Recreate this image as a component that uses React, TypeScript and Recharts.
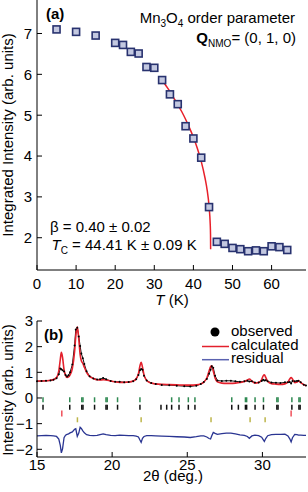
import React from 'react';
import { ComposedChart, Scatter, Line, XAxis, YAxis } from 'recharts';

const FONT = '"Liberation Sans", Arial, Helvetica, sans-serif';

// (a) Mn3O4 order parameter
const tempK = [5, 10, 15, 20, 22, 24, 26, 28, 30, 32, 34, 36, 38, 40, 42, 44, 46, 48, 50, 52, 54, 56, 58, 60, 62, 64];
const intensity = [7.10, 7.04, 6.95, 6.77, 6.72, 6.55, 6.51, 6.18, 6.16, 5.86, 5.51, 5.27, 4.73, 4.43, 3.96, 2.75, 1.90, 1.85, 1.75, 1.72, 1.67, 1.69, 1.67, 1.79, 1.77, 1.70];
const fitT = [32, 33, 34, 35, 36, 37, 38, 39, 40, 41, 42, 43, 43.5, 44, 44.2, 44.3, 44.38, 44.41];
const fitI = [5.86, 5.72, 5.58, 5.42, 5.26, 5.09, 4.90, 4.69, 4.46, 4.19, 3.87, 3.45, 3.18, 2.78, 2.53, 2.34, 2.08, 1.72];
const tTicks = [0, 10, 20, 30, 40, 50, 60];
const iTicks = [2, 3, 4, 5, 6, 7];

// (b) diffraction pattern
const twoTheta = [15.0, 15.3, 15.6, 15.9, 16.1, 16.3, 16.45, 16.55, 16.62, 16.7, 16.8, 16.9, 17.0, 17.1, 17.2, 17.35, 17.5, 17.58, 17.68, 17.78, 17.87, 17.95, 18.05, 18.15, 18.3, 18.5, 18.75, 19.0, 19.2, 19.4, 19.6, 19.9, 20.2, 20.5, 20.8, 21.1, 21.4, 21.6, 21.75, 21.85, 21.93, 22.02, 22.12, 22.3, 22.6, 22.9, 23.3, 23.8, 24.3, 24.8, 25.2, 25.6, 25.9, 26.1, 26.3, 26.45, 26.55, 26.63, 26.73, 26.85, 27.0, 27.3, 27.6, 27.9, 28.2, 28.5, 28.8, 29.0, 29.13, 29.3, 29.5, 29.75, 29.95, 30.05, 30.13, 30.22, 30.35, 30.6, 30.9, 31.2, 31.5, 31.7, 31.82, 31.91, 32.0, 32.15, 32.3, 32.4, 32.55, 32.75, 32.9];
const calculated = [0.66, 0.66, 0.67, 0.69, 0.72, 0.80, 1.05, 1.50, 1.78, 1.58, 1.10, 0.88, 0.80, 0.82, 0.90, 1.15, 1.80, 2.40, 2.77, 2.30, 1.70, 1.45, 1.35, 1.20, 1.00, 0.84, 0.76, 0.71, 0.70, 0.71, 0.70, 0.66, 0.63, 0.61, 0.61, 0.62, 0.66, 0.75, 0.95, 1.25, 1.39, 1.20, 0.90, 0.68, 0.58, 0.55, 0.53, 0.52, 0.51, 0.50, 0.50, 0.51, 0.55, 0.62, 0.78, 1.05, 1.22, 1.25, 1.05, 0.78, 0.63, 0.58, 0.57, 0.57, 0.58, 0.60, 0.64, 0.70, 0.74, 0.66, 0.58, 0.60, 0.72, 0.86, 0.90, 0.80, 0.65, 0.56, 0.54, 0.53, 0.55, 0.62, 0.74, 0.80, 0.74, 0.60, 0.62, 0.66, 0.60, 0.52, 0.48];
const observed = [0.65, 0.66, 0.67, 0.68, 0.71, 0.77, 0.92, 1.15, 1.12, 1.08, 1.03, 0.90, 0.84, 0.89, 1.00, 1.30, 2.05, 2.67, 2.74, 2.40, 2.03, 1.73, 1.55, 1.32, 1.04, 0.85, 0.76, 0.72, 0.73, 0.78, 0.73, 0.66, 0.63, 0.63, 0.61, 0.62, 0.65, 0.73, 0.90, 1.08, 1.13, 1.10, 0.87, 0.68, 0.58, 0.54, 0.51, 0.50, 0.48, 0.46, 0.45, 0.48, 0.54, 0.62, 0.74, 0.94, 1.10, 1.24, 1.18, 0.87, 0.68, 0.66, 0.67, 0.67, 0.65, 0.63, 0.65, 0.67, 0.64, 0.65, 0.60, 0.60, 0.66, 0.71, 0.68, 0.69, 0.65, 0.60, 0.59, 0.58, 0.61, 0.61, 0.62, 0.56, 0.66, 0.65, 0.66, 0.67, 0.61, 0.52, 0.49];
const residual = [-1.48, -1.47, -1.46, -1.47, -1.48, -1.50, -1.60, -1.85, -2.14, -1.98, -1.55, -1.45, -1.42, -1.40, -1.36, -1.32, -1.22, -1.20, -1.50, -1.37, -1.14, -1.19, -1.28, -1.36, -1.43, -1.46, -1.47, -1.46, -1.43, -1.40, -1.43, -1.46, -1.47, -1.45, -1.46, -1.47, -1.47, -1.49, -1.52, -1.64, -1.73, -1.57, -1.50, -1.47, -1.47, -1.48, -1.49, -1.50, -1.51, -1.52, -1.54, -1.51, -1.48, -1.48, -1.52, -1.58, -1.60, -1.47, -1.34, -1.38, -1.42, -1.39, -1.37, -1.37, -1.40, -1.44, -1.46, -1.50, -1.57, -1.48, -1.45, -1.47, -1.53, -1.62, -1.69, -1.58, -1.47, -1.43, -1.42, -1.42, -1.41, -1.48, -1.59, -1.71, -1.55, -1.42, -1.43, -1.45, -1.45, -1.46, -1.46];

// reflection marker rows
const greenRefl = [15.4, 17.18, 17.98, 18.06, 18.83, 19.59, 19.67, 20.36, 21.85, 23.96, 24.45, 25.07, 25.51, 27.96, 28.87, 28.95, 29.51, 30.07, 30.96, 31.04, 31.96, 32.43, 32.51];
const blackRefl = [15.4, 17.18, 17.98, 18.06, 18.83, 19.59, 19.67, 20.36, 21.85, 23.25, 23.63, 23.96, 24.45, 25.07, 25.51, 27.96, 28.4, 28.87, 28.95, 29.51, 30.07, 30.96, 31.04, 31.96, 32.43, 32.51];
const redRefl = [16.65, 31.91];
const yellowRefl = [17.69, 21.93, 26.58, 29.18, 30.18];
const thetaTicks = [15, 20, 25, 30];
const intTicks = [-2, -1, 0, 1, 2, 3];

const points = tempK.map((x, i) => ({ x, y: intensity[i] }));
const fit = fitT.map((x, i) => ({ x, y: fitI[i] }));
const obsData = twoTheta.map((x, i) => ({ x, y: observed[i] }));
const calcData = twoTheta.map((x, i) => ({ x, y: calculated[i] }));
const resData = twoTheta.map((x, i) => ({ x, y: residual[i] }));
const row = (arr: number[], y: number) => arr.map(x => ({ x, y }));

const axisStroke = { stroke: '#000', strokeWidth: 1 };
const minus = (v: number) => String(v).replace('-', '\u2212');

const bottomTick = (p: any) => (
  <text x={p.x} y={p.y} dy="0.71em" textAnchor="middle" fontSize={15} fontFamily={FONT} fill="#000">
    {minus(p.payload.value)}
  </text>
);
const leftTick = (p: any) => (
  <text x={p.x} y={p.y} dy="0.36em" textAnchor="end" fontSize={15} fontFamily={FONT} fill="#000">
    {minus(p.payload.value)}
  </text>
);

const square = (p: any) => {
  if (p.cx == null) return <g />;
  return <rect x={p.cx - 3.5} y={p.cy - 3.5} width={7} height={7} fill="#c3c8e0" stroke="#28326f" strokeWidth={1.6} />;
};
const marker = (color: string, h: number) => (p: any) => {
  if (p.cx == null) return <g />;
  return <line x1={p.cx} x2={p.cx} y1={p.cy - h / 2} y2={p.cy + h / 2} stroke={color} strokeWidth={1.5} />;
};

const PanelA = () => (
  <ComposedChart width={308} height={310} margin={{ top: 0, right: 2, bottom: 0, left: 0 }}>
    <XAxis xAxisId="b" type="number" dataKey="x" domain={[0, 68.8]} ticks={tTicks} height={40}
      axisLine={axisStroke} tickLine={axisStroke} tickSize={-5} tickMargin={13.5} tick={bottomTick} />
    <XAxis xAxisId="t" orientation="top" type="number" dataKey="x" domain={[0, 68.8]} ticks={tTicks} height={0}
      axisLine={axisStroke} tickLine={axisStroke} tickSize={-5} tick={false} />
    <YAxis yAxisId="l" type="number" dataKey="y" domain={[1.21, 7.82]} ticks={iTicks} width={37}
      axisLine={axisStroke} tickLine={axisStroke} tickSize={-5} tickMargin={10} tick={leftTick} />
    <YAxis yAxisId="r" orientation="right" type="number" dataKey="y" domain={[1.21, 7.82]} ticks={iTicks} width={0}
      axisLine={axisStroke} tickLine={axisStroke} tickSize={-5} tick={false} />
    <Line xAxisId="b" yAxisId="l" data={fit} dataKey="y" type="monotone" stroke="#e8202a" strokeWidth={1.5} dot={false} isAnimationActive={false} />
    <Scatter xAxisId="b" yAxisId="l" data={points} dataKey="y" shape={square} isAnimationActive={false} />
  </ComposedChart>
);

const PanelB = () => (
  <ComposedChart width={308} height={182} margin={{ top: 11, right: 2, bottom: 0, left: 0 }}>
    <XAxis xAxisId="b" type="number" dataKey="x" domain={[15, 32.9]} ticks={thetaTicks} height={35}
      axisLine={axisStroke} tickLine={axisStroke} tickSize={-5} tickMargin={7} tick={bottomTick} />
    <XAxis xAxisId="t" orientation="top" type="number" dataKey="x" domain={[15, 32.9]} ticks={thetaTicks} height={0}
      axisLine={axisStroke} tickLine={axisStroke} tickSize={-5} tick={false} />
    <YAxis yAxisId="l" type="number" dataKey="y" domain={[-2.3, 3]} ticks={intTicks} width={37}
      axisLine={axisStroke} tickLine={axisStroke} tickSize={-5} tickMargin={9} tick={leftTick} />
    <YAxis yAxisId="r" orientation="right" type="number" dataKey="y" domain={[-2.3, 3]} ticks={intTicks} width={0}
      axisLine={axisStroke} tickLine={axisStroke} tickSize={-5} tick={false} />
    <Scatter xAxisId="b" yAxisId="l" data={row(greenRefl, -0.07)} dataKey="y" shape={marker('#2f8a52', 5)} isAnimationActive={false} />
    <Scatter xAxisId="b" yAxisId="l" data={row(blackRefl, -0.36)} dataKey="y" shape={marker('#111', 5)} isAnimationActive={false} />
    <Scatter xAxisId="b" yAxisId="l" data={row(redRefl, -0.6)} dataKey="y" shape={marker('#f0505a', 6)} isAnimationActive={false} />
    <Scatter xAxisId="b" yAxisId="l" data={row(yellowRefl, -0.85)} dataKey="y" shape={marker('#bdb54a', 5)} isAnimationActive={false} />
    <Line xAxisId="b" yAxisId="l" data={resData} dataKey="y" type="linear" stroke="#2a3592" strokeWidth={1.3} dot={false} isAnimationActive={false} />
    <Line xAxisId="b" yAxisId="l" data={obsData} dataKey="y" type="linear" stroke="#111" strokeWidth={1}
      dot={{ r: 1, fill: '#000', stroke: 'none' }} isAnimationActive={false} />
    <Line xAxisId="b" yAxisId="l" data={calcData} dataKey="y" type="monotone" stroke="#e3202c" strokeWidth={1.6} dot={false} isAnimationActive={false} />
  </ComposedChart>
);

const txt = { fontFamily: FONT, fontSize: 15, fill: '#000' } as const;

const Overlay = () => (
  <svg width={308} height={492} style={{ position: 'absolute', left: 0, top: 0, pointerEvents: 'none' }}>
    {/* panel a */}
    <text x={46} y={18.5} {...txt} fontWeight="bold">(a)</text>
    <text x={295} y={23} {...txt} textAnchor="end">
      Mn<tspan fontSize={10} dy={4}>3</tspan><tspan dy={-4}>O</tspan><tspan fontSize={10} dy={4}>4</tspan><tspan dy={-4}> order parameter</tspan>
    </text>
    <text x={296} y={43} {...txt} textAnchor="end">
      <tspan fontWeight="bold">Q</tspan><tspan fontSize={10} dy={4}>NMO</tspan><tspan dy={-4}>= (0, 1, 0)</tspan>
    </text>
    <text x={50} y={232} {...txt}>β = 0.40 ± 0.02</text>
    <text x={51.5} y={250} {...txt}>
      <tspan fontStyle="italic">T</tspan><tspan fontSize={10} dy={4}>C</tspan><tspan dy={-4}> = 44.41 K ± 0.09 K</tspan>
    </text>
    <text x={172} y={305} {...txt} textAnchor="middle"><tspan fontStyle="italic">T</tspan> (K)</text>
    <text transform="translate(12.7,135) rotate(-90)" {...txt} textAnchor="middle">Integrated Intensity (arb. units)</text>
    {/* panel b */}
    <text x={44} y={340} {...txt} fontWeight="bold">(b)</text>
    <circle cx={215} cy={332} r={4.5} fill="#000" />
    <text x={231} y={336} {...txt}>observed</text>
    <line x1={202} x2={229} y1={346.5} y2={346.5} stroke="#e3202c" strokeWidth={1.5} />
    <text x={231} y={350} {...txt}>calculated</text>
    <line x1={202} x2={229} y1={359.7} y2={359.7} stroke="#5a62b0" strokeWidth={1.5} />
    <text x={231} y={363} {...txt}>residual</text>
    <text x={173} y={481} {...txt} textAnchor="middle">2θ (deg.)</text>
    <text transform="translate(12.7,390) rotate(-90)" {...txt} textAnchor="middle">Intensity (arb. units)</text>
  </svg>
);

export default function App() {
  return (
    <div style={{ position: 'absolute', left: 0, top: 0, width: 308, height: 492, background: '#fff' }}>
      <div style={{ position: 'absolute', left: 0, top: 0 }}>
        <PanelA />
      </div>
      <div style={{ position: 'absolute', left: 0, top: 310 }}>
        <PanelB />
      </div>
      <Overlay />
    </div>
  );
}
